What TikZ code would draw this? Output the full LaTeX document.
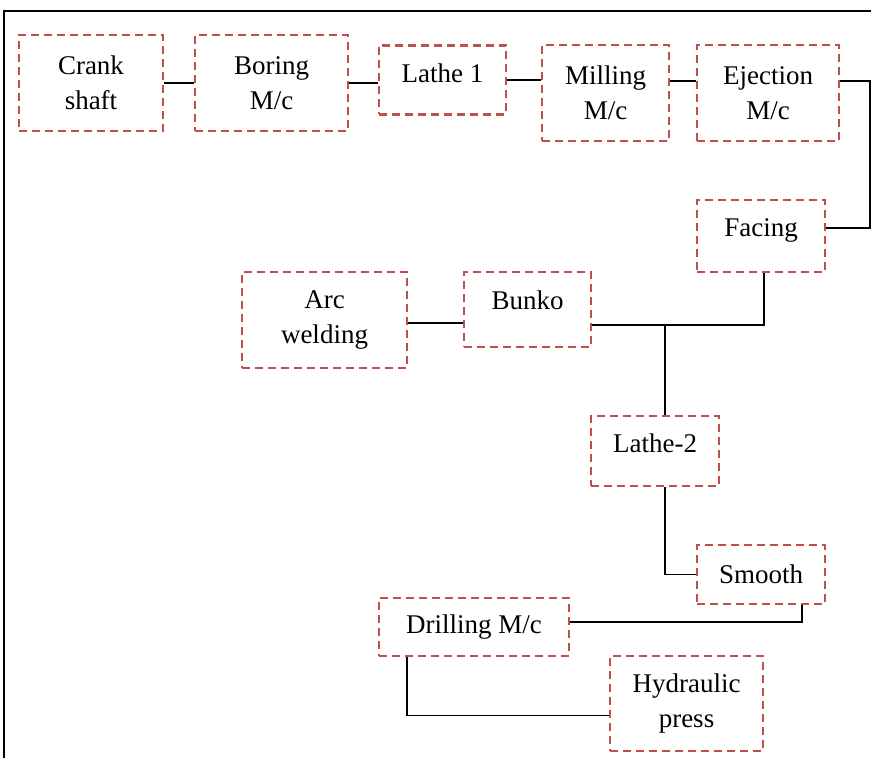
\documentclass[tikz,border=0pt]{standalone}
\usepackage{fontspec}
\setmainfont{Liberation Serif}
\usepackage{tikz}
\usetikzlibrary{shapes, positioning}
\usetikzlibrary{calc}
\definecolor{boxred}{RGB}{192,80,77}

\begin{document}
\begin{tikzpicture}[x=0.5pt, y=-0.5pt,
		font=\fontsize{13.5}{17.5}\selectfont,
		stage/.style={draw=boxred, line width=1.45pt, dash pattern=on 4pt off 2.5pt, inner sep=0pt, align=center},
		lift/.style={text depth=#1},
		link/.style={draw=black, line width=0.8pt}]
		\useasboundingbox (0,0) rectangle (871,758);
		\draw[line width=0.8pt] (871,11) -- (4,11) -- (4,758);
		\node[stage, minimum width=72pt, minimum height=48pt] (crank) at (91,83) {Crank\\shaft};
		\node[stage, minimum width=76.5pt, minimum height=48pt] (boring) at (271.5,83) {Boring\\M/c};
		\node[stage, lift=7pt, minimum width=63.5pt, minimum height=34.5pt] (lathe1) at (442.5,80) {Lathe 1};
		\node[stage, minimum width=63.5pt, minimum height=48pt] (milling) at (605.5,93) {Milling\\M/c};
		\node[stage, minimum width=71pt, minimum height=48pt] (ejection) at (768,93) {Ejection\\M/c};
		\node[stage, lift=8pt, minimum width=64pt, minimum height=36pt] (facing) at (761,236) {Facing};
		\node[stage, minimum width=82.5pt, minimum height=48pt] (arc) at (324.5,320) {Arc\\welding};
		\node[stage, lift=9pt, minimum width=63.5pt, minimum height=37.5pt] (bunko) at (527.5,309.5) {Bunko};
		\node[stage, lift=8pt, minimum width=64pt, minimum height=35pt] (lathe2) at (655,451) {Lathe-2};
		\node[stage, minimum width=64pt, minimum height=29.5pt] (smooth) at (761,574.5) {Smooth};
		\node[stage, minimum width=95pt, minimum height=29pt] (drilling) at (474,627) {Drilling M/c};
		\node[stage, minimum width=76.5pt, minimum height=47.5pt] (hydraulic) at (686.5,703.5) {Hydraulic\\press};
		\coordinate (turn) at (870,81);
		\coordinate (split) at (665,325);
		\draw[link] (crank.east) -- (crank.east -| boring.west);
		\draw[link] (boring.east) -- (boring.east -| lathe1.west);
		\draw[link] (lathe1.east) -- (lathe1.east -| milling.west);
		\draw[link] ([yshift=6pt]milling.east) -- ([yshift=6pt]ejection.west);
		\draw[link] ([yshift=6pt]ejection.east) -- (turn) |- ([yshift=4pt]facing.east);
		\draw[link] ([xshift=1.5pt]facing.south) |- ([yshift=-7.75pt]bunko.east);
		\draw[link] (split) -- (split |- lathe2.north);
		\draw[link] ([yshift=-1.5pt]arc.east) -- ([yshift=-1.5pt]arc.east -| bunko.west);
		\draw[link] ([xshift=5pt]lathe2.south) |- (smooth.west);
		\draw[link] ([xshift=20.5pt]smooth.south) |- ([yshift=2.5pt]drilling.east);
		\draw[link] ([xshift=-33.5pt]drilling.south) |- ([yshift=-6pt]hydraulic.west);
	\end{tikzpicture}
\end{document}
